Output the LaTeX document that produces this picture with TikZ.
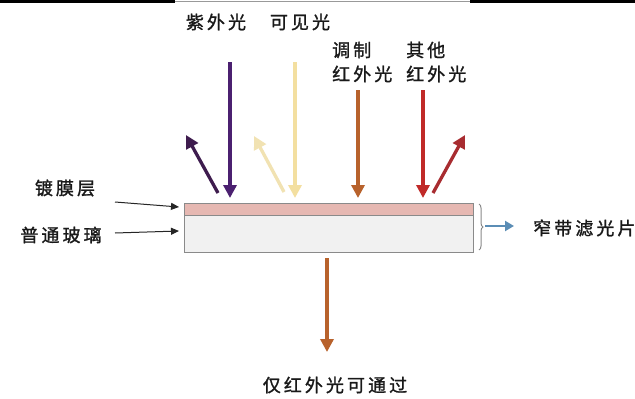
\documentclass[tikz,border=0pt]{standalone}
\usepackage{fontspec}
\newfontfamily\cjk[LetterSpace=17,FakeBold=1.3]{Noto Sans CJK SC}
\usetikzlibrary{arrows.meta,decorations.pathreplacing}
\definecolor{uvc}{HTML}{4B2070}
\definecolor{uvr}{HTML}{3E1C4E}
\definecolor{visc}{HTML}{F3DFA0}
\definecolor{visr}{HTML}{F1E2B2}
\definecolor{irc}{HTML}{B8622C}
\definecolor{redc}{HTML}{C02A28}
\definecolor{redr}{HTML}{A82C30}
\definecolor{coat}{HTML}{E6B8B2}
\definecolor{glass}{HTML}{F1F1F1}
\definecolor{edge}{HTML}{8A8A8A}
\definecolor{bluec}{HTML}{5B8DB5}
\tikzset{
  lbl/.style={font=\cjk\fontsize{18}{22}\selectfont, inner sep=0pt, text=black!90},
  ray/.style={line width=3.3pt, -{Triangle[length=13pt,width=13pt]}},
  thinar/.style={line width=1pt, black!85, -{Triangle[length=8pt,width=7pt]}},
}
\begin{document}
\begin{tikzpicture}[x=1pt,y=-1pt]
\useasboundingbox (0,0) rectangle (635,399);
\fill[white] (0,0) rectangle (635,399);
% top bar
\fill[black] (0,0) rectangle (175,3);
\fill[black] (470,0) rectangle (635,3);
\draw[black!40, line width=0.5pt] (175,1.5) -- (470,1.5);
% filter
\node[draw=edge, fill=coat, line width=1pt, minimum width=289pt, minimum height=12pt, inner sep=0pt, anchor=north west] (coat) at (184,203) {};
\node[draw=edge, fill=glass, line width=1pt, minimum width=289pt, minimum height=37pt, inner sep=0pt, anchor=north west] (glass) at (184,215) {};
% labels
\node[lbl] (uv) at (216,22) {紫外光};
\node[lbl] (vis) at (300,22) {可见光};
\node[lbl, anchor=west, align=left] (ir) at (332,62) {调制\\[2pt]红外光};
\node[lbl, anchor=west, align=left] (oth) at (406,62) {其他\\[2pt]红外光};
\node[lbl] (coatl) at (65,188) {镀膜层};
\node[lbl] (glassl) at (61,235) {普通玻璃};
\node[lbl, anchor=west] (nbf) at (533,228) {窄带滤光片};
\node[lbl] (only) at (335,385) {仅红外光可通过};
% coordinates
\coordinate (uvs) at (230,62);
\coordinate (uve) at (230,198);
\coordinate (uvrs) at (218,193);
\coordinate (uvre) at (186,135);
\coordinate (viss) at (295,62);
\coordinate (vise) at (295,198);
\coordinate (visrs) at (284,192);
\coordinate (visre) at (254,136);
\coordinate (irs) at (358,90);
\coordinate (ire) at (358,198);
\coordinate (reds) at (423,90);
\coordinate (rede) at (423,198);
\coordinate (redrs) at (433,193);
\coordinate (redre) at (465,135);
\coordinate (outs) at (327,258);
\coordinate (oute) at (327,352);
\coordinate (c1) at (115,202);
\coordinate (c1e) at (179,207);
\coordinate (c2) at (115,233);
\coordinate (c2e) at (179,231);
% rays
\draw[ray, uvr] (uvrs) -- (uvre);
\draw[ray, uvc] (uvs) -- (uve);
\draw[ray, visr] (visrs) -- (visre);
\draw[ray, visc] (viss) -- (vise);
\draw[ray, irc] (irs) -- (ire);
\draw[ray, redc] (reds) -- (rede);
\draw[ray, redr] (redrs) -- (redre);
\draw[ray, irc] (outs) -- (oute);
% pointers
\draw[thinar] (c1) -- (c1e);
\draw[thinar] (c2) -- (c2e);
% brace
\draw[edge, line width=1pt, decorate, decoration={brace, amplitude=4pt}] (479,204) -- (479,250);
\coordinate (bs) at (485,226);
\coordinate (be) at (514,226);
\draw[bluec, line width=2.5pt, -{Triangle[length=9pt,width=10pt]}] (bs) -- (be);
\end{tikzpicture}
\end{document}
